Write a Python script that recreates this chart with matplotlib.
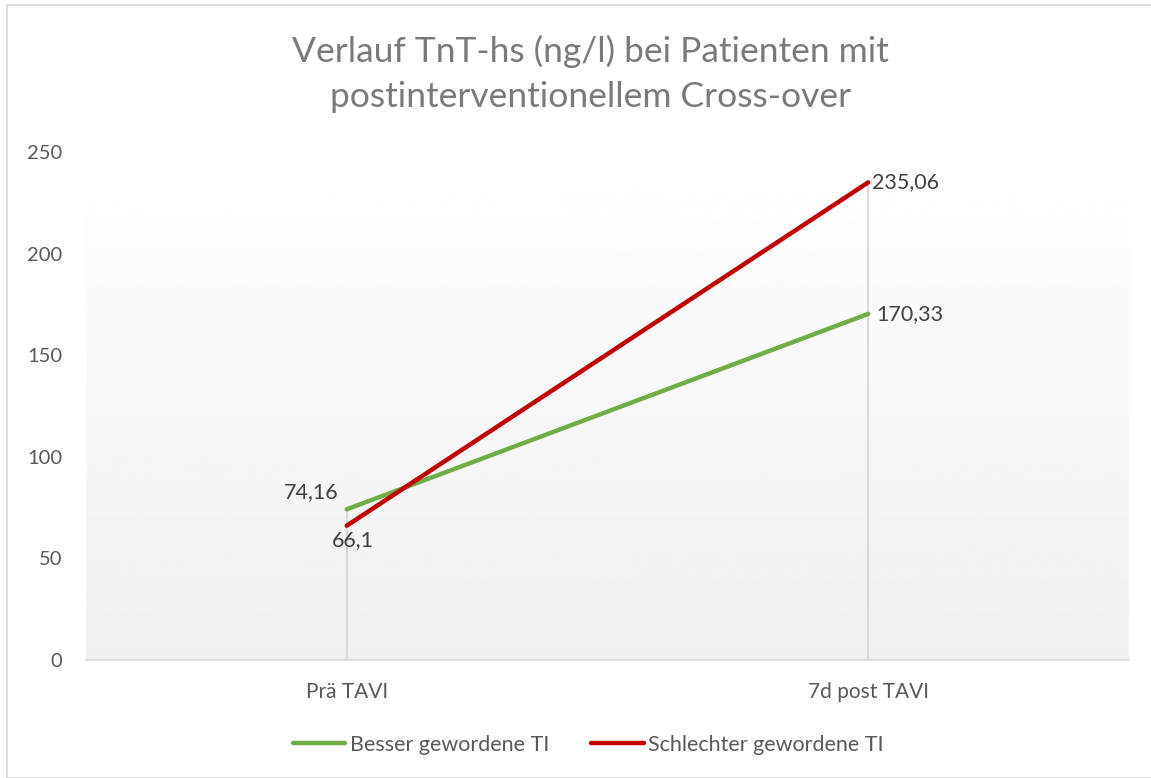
import matplotlib
matplotlib.use("Agg")
import matplotlib.pyplot as plt
import numpy as np
from matplotlib.patches import Rectangle

categories = ["Prä TAVI", "7d post TAVI"]
series_names = ["Besser gewordene TI", "Schlechter gewordene TI"]
besser = [74.16, 170.33]
schlechter = [66.1, 235.06]
label_besser = ["74,16", "170,33"]
label_schlechter = ["66,1", "235,06"]
yticks = [0, 50, 100, 150, 200, 250]
title = "Verlauf TnT-hs (ng/l) bei Patienten mit\npostinterventionellem Cross-over"

plt.rcParams['font.family'] = ['Lato', 'DejaVu Sans']
txt = "#595959"

fig = plt.figure(figsize=(11.51, 7.78), dpi=100)
ax = fig.add_axes([86/1151, 1-660/778, 1043/1151, 508/778])

x = np.arange(len(categories))

# gradient background (white top -> light gray bottom)
grad = np.linspace(1.0, 0.94, 256).reshape(-1, 1)
ax.imshow(grad, cmap="gray", vmin=0, vmax=1, aspect="auto", origin="upper",
          extent=[-0.5, 1.5, 0, 250], zorder=0)
ax.set_xlim(-0.5, 1.5)
ax.set_ylim(0, 250)

# drop lines
tops = np.maximum(besser, schlechter)
ax.vlines(x, 0, tops, color="#d9d9d9", lw=1.5, zorder=1)

ax.plot(x, besser, color="#70AD47", lw=3.2, solid_capstyle="round", zorder=3, label=series_names[0])
ax.plot(x, schlechter, color="#C00000", lw=3.2, solid_capstyle="round", zorder=4, label=series_names[1])

fs = 15.5
lc = "#404040"
ax.annotate(label_besser[0], (x[0], besser[0]), xytext=(-6, 5), textcoords="offset points",
            ha="right", va="bottom", fontsize=fs, color=lc)
ax.annotate(label_schlechter[0], (x[0], schlechter[0]), xytext=(-11, -3), textcoords="offset points",
            ha="left", va="top", fontsize=fs, color=lc)
ax.annotate(label_besser[1], (x[1], besser[1]), xytext=(6, 0), textcoords="offset points",
            ha="left", va="center", fontsize=fs, color=lc)
ax.annotate(label_schlechter[1], (x[1], schlechter[1]), xytext=(3, 0), textcoords="offset points",
            ha="left", va="center", fontsize=fs, color=lc)

ax.set_xticks(x)
ax.set_xticklabels(categories)
ax.set_yticks(yticks)
ax.tick_params(axis="both", length=0, colors=txt)
ax.tick_params(axis="x", pad=16, labelsize=15)
ax.tick_params(axis="y", pad=17, labelsize=14.5)
for s in ["top", "right", "left"]:
    ax.spines[s].set_visible(False)
ax.spines["bottom"].set_color("#d9d9d9")
ax.spines["bottom"].set_linewidth(1.2)

fig.text(0.513, 1-74/778, title, ha="center", va="center", fontsize=25.5,
         color="#7a7a7a", linespacing=1.5)

leg = fig.legend(loc="center", bbox_to_anchor=(0.511, 1-745/778), ncol=2, frameon=False,
                 fontsize=15.5, handlelength=2.45, handletextpad=0.2, columnspacing=1.95,
                 labelcolor=txt)

fig.patches.append(Rectangle((7/1151, 0), 1.2, 1-5/778, transform=fig.transFigure,
                             fill=False, edgecolor="#d9d9d9", lw=1.2))

fig.savefig("out.png", dpi=100)
